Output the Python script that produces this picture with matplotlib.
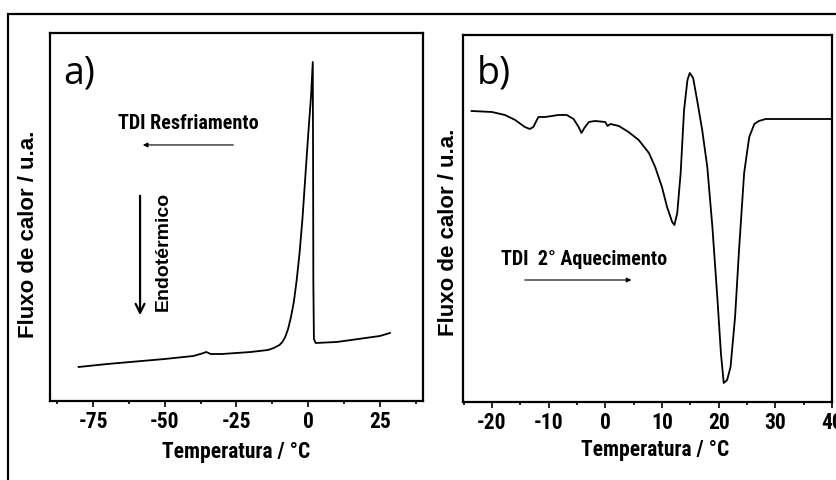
import matplotlib
matplotlib.use("Agg")
import matplotlib.pyplot as plt
from matplotlib import font_manager
from matplotlib.patches import Rectangle

# pick a condensed bold face if one is installed, else plain Liberation Sans
names = set(f.name for f in font_manager.fontManager.ttflist)
condensed = [n for n in ["Liberation Sans Narrow", "Roboto Condensed", "Open Sans Condensed"] if n in names]
narrow = condensed + ["Liberation Sans", "DejaVu Sans"]
nsize = 14 if condensed else 12
wide = ["Liberation Sans", "DejaVu Sans"]

plt.rcParams["axes.unicode_minus"] = False
plt.rcParams["font.family"] = narrow
plt.rcParams["font.weight"] = "bold"
plt.rcParams["axes.labelweight"] = "bold"
plt.rcParams["xtick.labelsize"] = nsize + 1.5

# panel a) - cooling curve (arbitrary units)
temp_a = [-80, -70, -60, -50, -40, -37, -35.5, -34, -30, -20, -14, -12, -10, -9, -8,
          -7, -6, -5, -4, -3, -2, -1, 0, 1, 1.6, 1.7, 1.8, 2.0, 2.6, 10, 20, 25, 28.5]
flux_a = [34, 37, 39.5, 42, 45, 47.5, 49, 47, 47, 49, 51, 53, 56, 59, 64,
          72, 84, 99, 121, 148, 182, 224, 266, 305, 339, 250, 120, 62, 58, 59, 63, 65, 68]

# panel b) - 2nd heating curve (arbitrary units)
temp_b = [-23.6, -20, -17.7, -15.9, -14.2, -13.3, -12.7, -11.8, -10.6, -9.4, -8.3,
          -6.8, -5.6, -4.7, -4.2, -3.7, -2.9, -1.8, 0, 0.4, 0.9, 2.4, 4.1, 5.9,
          7.7, 8.8, 10.0, 10.9, 11.8, 12.2, 12.7, 13.3, 13.9, 14.5, 14.9, 15.5,
          16.2, 17.1, 18.0, 18.9, 19.8, 20.4, 20.9, 21.5, 22.1, 22.9, 23.6, 24.5,
          25.4, 26.3, 27.1, 28.3, 40]
flux_b = [291, 290, 287, 282, 275, 273, 275, 285, 285, 286, 287,
          287, 283, 275, 269, 274, 280, 281, 280, 276, 278, 276, 270, 262,
          249, 235, 215, 195, 180, 177, 189, 229, 292, 322, 329, 324,
          302, 272, 235, 175, 102, 49, 19, 22, 35, 85, 152, 229,
          265, 278, 281, 283, 283]

xticks_a = [-75, -50, -25, 0, 25]
xticks_b = [-20, -10, 0, 10, 20, 30, 40]

fig = plt.figure(figsize=(8.37, 4.8), dpi=100)

ax1 = fig.add_axes([0.0597, 0.1646, 0.4456, 0.7667])
ax2 = fig.add_axes([0.5532, 0.1625, 0.4408, 0.7646])

ax1.plot(temp_a, flux_a, color="black", lw=1.3)
ax2.plot(temp_b, flux_b, color="black", lw=1.3)

for ax, ticks, step in [(ax1, xticks_a, 12.5), (ax2, xticks_b, 5)]:
    ax.set_xticks(ticks)
    ax.set_xticks([ticks[0] - step + i * step for i in range(2 * len(ticks) + 2)], minor=True)
    ax.set_yticks([])
    ax.tick_params(axis="x", which="major", direction="out", length=4.5, width=1.2, pad=3)
    ax.tick_params(axis="x", which="minor", direction="out", length=2.5, width=1.2)
    for s in ax.spines.values():
        s.set_linewidth(1.6)

ax1.set_xlim(-90, 40)
ax1.set_ylim(0, 368)
ax2.set_xlim(-25.1, 40)
ax2.set_ylim(0, 367)

ax1.set_xlabel("Temperatura / °C", fontweight="bold", fontsize=nsize + 1.5, va="center")
ax1.xaxis.set_label_coords(0.5, -0.1386)
ax2.set_xlabel("Temperatura / °C", fontweight="bold", fontsize=nsize + 1.5, va="center")
ax2.xaxis.set_label_coords(0.52, -0.131)

ax1.set_ylabel("Fluxo de calor / u.a.", family=wide, fontweight="bold", fontsize=16, va="center")
ax1.yaxis.set_label_coords(-0.0563, 0.454)
ax2.set_ylabel("Fluxo de calor / u.a.", family=wide, fontweight="bold", fontsize=16, va="center")
ax2.yaxis.set_label_coords(-0.0407, 0.463)

# panel letters
ax1.text(0.035, 0.891, "a)", transform=ax1.transAxes, family=["Open Sans", "DejaVu Sans"],
         fontweight="normal", fontsize=27, ha="left", va="center")
ax2.text(0.038, 0.896, "b)", transform=ax2.transAxes, family=["Open Sans", "DejaVu Sans"],
         fontweight="normal", fontsize=27, ha="left", va="center")

# annotations panel a
ax1.text(-41.9, 277, "TDI Resfriamento", fontweight="bold", fontsize=nsize + 0.5,
         ha="center", va="center")
ax1.annotate("", xy=(-58.6, 256), xytext=(-25.1, 256),
             arrowprops=dict(arrowstyle="-|>", color="black", lw=0.8, mutation_scale=7))
ax1.annotate("", xy=(-58.6, 83), xytext=(-58.6, 208),
             arrowprops=dict(arrowstyle="->", color="black", lw=1.6, mutation_scale=16))
ax1.text(-50.5, 150, "Endotérmico", family=wide, fontweight="bold", fontsize=14,
         rotation=90, ha="center", va="center")

# annotations panel b
ax2.text(-3.7, 142, "TDI  2° Aquecimento", fontweight="bold", fontsize=nsize + 0.5,
         ha="center", va="center")
ax2.annotate("", xy=(5.1, 122), xytext=(-14.7, 122),
             arrowprops=dict(arrowstyle="-|>", color="black", lw=0.8, mutation_scale=7))

# outer frame (only left and top edges fall inside the picture)
fig.add_artist(Rectangle((8 / 837, -0.2), 1.2, 1.2 - 14 / 480, transform=fig.transFigure,
                         fill=False, edgecolor="black", lw=1.6))

fig.savefig("out.png", dpi=100)
